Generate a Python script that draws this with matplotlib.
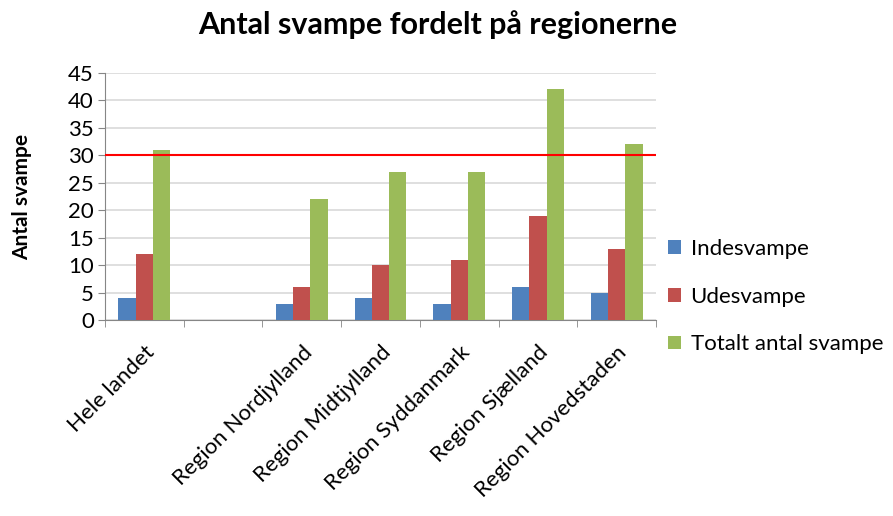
import numpy as np
import matplotlib
matplotlib.use("Agg")
import matplotlib.pyplot as plt

### Data.
categories = ["Hele landet", "", "Region Nordjylland", "Region Midtjylland",
              "Region Syddanmark", "Region Sjælland", "Region Hovedstaden"]
inde = [4, np.nan, 3, 4, 3, 6, 5]
ude = [12, np.nan, 6, 10, 11, 19, 13]
total = [31, np.nan, 22, 27, 27, 42, 32]
threshold = 30

series_names = ["Indesvampe", "Udesvampe", "Totalt antal svampe"]
colors = ["#4F81BD", "#C0504D", "#9BBB59"]

plt.rcParams["font.family"] = ["Lato", "DejaVu Sans"]

fig = plt.figure(figsize=(8.93, 5.16), dpi=100)
ax = fig.add_axes([0.1176, 0.3798, 0.6170, 0.4787])

x = np.arange(len(categories))
w = 0.22
for i, (vals, name, c) in enumerate(zip([inde, ude, total], series_names, colors)):
    ax.bar(x + (i - 1) * w, vals, width=w, color=c, label=name, zorder=3)

ax.axhline(threshold, color="#FF0000", linewidth=1.5, zorder=4)

ax.set_xlim(-0.5, len(categories) - 0.5)
ax.set_ylim(0, 45)
ax.set_yticks(np.arange(0, 46, 5))
ax.yaxis.grid(True, color="#D9D9D9", linewidth=1.2, zorder=0)
ax.tick_params(axis="y", labelsize=16, length=5, color="#868686", direction="out", pad=3)

ax.set_xticks(x)
ax.set_xticklabels(categories, rotation=45, ha="right", rotation_mode="anchor", fontsize=16)
ax.tick_params(axis="x", which="major", length=0, pad=16)
ax.set_xticks(np.arange(-0.5, len(categories), 1), minor=True)
ax.tick_params(axis="x", which="minor", length=5, color="#868686", direction="out")

for s in ["top", "right"]:
    ax.spines[s].set_visible(False)
for s in ["left", "bottom"]:
    ax.spines[s].set_color("#868686")

ax.set_ylabel("Antal svampe", fontsize=15, fontweight="bold", labelpad=26)
fig.suptitle("Antal svampe fordelt på regionerne", fontsize=22, fontweight="bold",
             x=0.49, y=0.98)

fig.legend(loc="center left", bbox_to_anchor=(0.726, 0.425), frameon=False,
           fontsize=16, labelspacing=1.25, handlelength=0.55, handleheight=0.55,
           handletextpad=0.45)

fig.savefig("out.png", dpi=100)
